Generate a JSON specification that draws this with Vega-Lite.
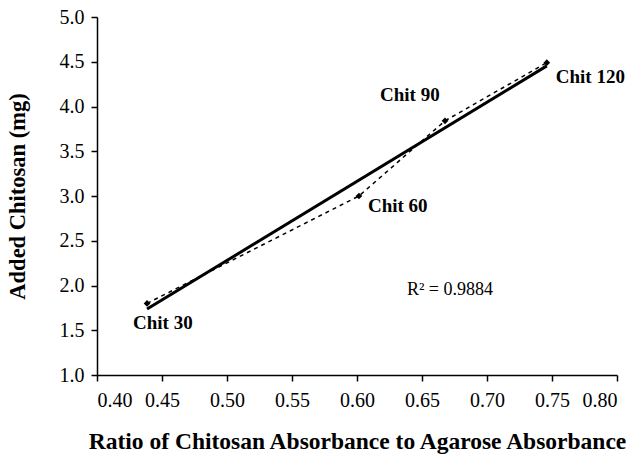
{
  "$schema": "https://vega.github.io/schema/vega-lite/v6.json",
  "autosize": {"type": "none"},
  "padding": {"left": 97, "top": 17, "right": 16, "bottom": 80},
  "width": 520,
  "height": 358,
  "background": "white",
  "config": {
    "view": {"stroke": null},
    "font": "Liberation Serif",
    "axis": {
      "grid": false,
      "domainColor": "black",
      "domainWidth": 1.5,
      "tickColor": "black",
      "tickWidth": 1.5,
      "tickSize": 6,
      "labelColor": "black",
      "labelFont": "Liberation Serif",
      "labelFontSize": 20,
      "titleColor": "black",
      "titleFont": "Liberation Serif",
      "titleFontSize": 22.5,
      "titleFontWeight": "bold"
    }
  },
  "data": {
    "values": [
      {"ratio": 0.4385, "chitosan": 1.80, "sample": "Chit 30"},
      {"ratio": 0.6015, "chitosan": 3.00, "sample": "Chit 60"},
      {"ratio": 0.6677, "chitosan": 3.84, "sample": "Chit 90"},
      {"ratio": 0.746, "chitosan": 4.49, "sample": "Chit 120"}
    ]
  },
  "encoding": {
    "x": {
      "field": "ratio",
      "type": "quantitative",
      "scale": {"domain": [0.4, 0.8], "nice": false, "zero": false},
      "axis": {
        "title": "Ratio of Chitosan Absorbance to Agarose Absorbance",
        "values": [0.4, 0.45, 0.5, 0.55, 0.6, 0.65, 0.7, 0.75, 0.8],
        "format": ".2f",
        "labelPadding": 9,
        "titleFontSize": 23.5,
        "titlePadding": 19
      }
    },
    "y": {
      "field": "chitosan",
      "type": "quantitative",
      "scale": {"domain": [1, 5], "nice": false, "zero": false},
      "axis": {
        "title": "Added Chitosan (mg)",
        "values": [1, 1.5, 2, 2.5, 3, 3.5, 4, 4.5, 5],
        "format": ".1f",
        "labelPadding": 7,
        "titlePadding": 30
      }
    }
  },
  "layer": [
    {
      "mark": {"type": "line", "color": "black", "strokeWidth": 1.5, "strokeDash": [4, 4]}
    },
    {
      "transform": [{"regression": "chitosan", "on": "ratio"}],
      "mark": {"type": "line", "color": "black", "strokeWidth": 3}
    },
    {
      "mark": {"type": "point", "shape": "diamond", "filled": true, "color": "black", "size": 45, "opacity": 1}
    },
    {
      "transform": [{"filter": "datum.sample === 'Chit 30'"}],
      "mark": {"type": "text", "font": "Liberation Serif", "fontWeight": "bold", "fontSize": 19, "align": "left", "dx": -14, "dy": 20},
      "encoding": {"text": {"field": "sample"}}
    },
    {
      "transform": [{"filter": "datum.sample === 'Chit 60'"}],
      "mark": {"type": "text", "font": "Liberation Serif", "fontWeight": "bold", "fontSize": 19, "align": "left", "dx": 9, "dy": 10},
      "encoding": {"text": {"field": "sample"}}
    },
    {
      "transform": [{"filter": "datum.sample === 'Chit 90'"}],
      "mark": {"type": "text", "font": "Liberation Serif", "fontWeight": "bold", "fontSize": 19, "align": "left", "dx": -65, "dy": -26},
      "encoding": {"text": {"field": "sample"}}
    },
    {
      "transform": [{"filter": "datum.sample === 'Chit 120'"}],
      "mark": {"type": "text", "font": "Liberation Serif", "fontWeight": "bold", "fontSize": 19, "align": "left", "dx": 9, "dy": 14},
      "encoding": {"text": {"field": "sample"}}
    },
    {
      "data": {"values": [{"ratio": 0.6715, "chitosan": 1.95, "label": "R² = 0.9884"}]},
      "mark": {"type": "text", "font": "Liberation Serif", "fontSize": 18, "align": "center", "color": "black"},
      "encoding": {"text": {"field": "label"}}
    }
  ]
}
